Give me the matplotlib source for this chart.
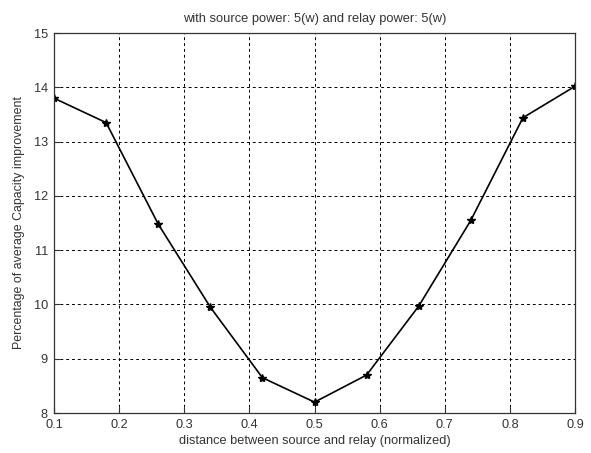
import matplotlib
matplotlib.use("Agg")
import matplotlib.pyplot as plt

distance = [0.1, 0.18, 0.26, 0.34, 0.42, 0.5, 0.58, 0.66, 0.74, 0.82, 0.9]
improvement = [13.8, 13.35, 11.48, 9.95, 8.65, 8.2, 8.7, 9.97, 11.55, 13.44, 14.02]
xticks = [0.1, 0.2, 0.3, 0.4, 0.5, 0.6, 0.7, 0.8, 0.9]
yticks = [8, 9, 10, 11, 12, 13, 14, 15]

plt.rcParams['font.family'] = ['Liberation Sans', 'DejaVu Sans']
fig = plt.figure(figsize=(5.91, 4.53), dpi=100)
ax = fig.add_axes([0.0914, 0.0883, 0.8816, 0.8387])
ax.plot(distance, improvement, color='black', linewidth=1.2, marker='*',
        markersize=6, markerfacecolor='black', markeredgecolor='black')
ax.set_xlim(0.1, 0.9)
ax.set_ylim(8, 15)
ax.set_xticks(xticks)
ax.set_xticklabels([f"{t:g}" for t in xticks])
ax.set_yticks(yticks)
ax.set_yticklabels([str(t) for t in yticks])
ax.grid(True, color='black', linestyle=(0, (3, 3)), linewidth=0.7)
ax.tick_params(direction='in', length=4, labelsize=9.2, colors='#333333')
ax.tick_params(axis='y', pad=4.5)
ax.tick_params(axis='x', pad=4)
for s in ax.spines.values():
    s.set_color('#333333')
    s.set_linewidth(0.9)
ax.set_title("with source power: 5(w) and relay power: 5(w)", fontsize=9.3,
             color='#333333', pad=8)
ax.set_xlabel("distance between source and relay (normalized)", fontsize=9.2,
              color='#333333', labelpad=3)
ax.set_ylabel("Percentage of average Capacity improvement", fontsize=8.9,
              color='#333333', labelpad=6)
fig.savefig("out.png", dpi=100)
